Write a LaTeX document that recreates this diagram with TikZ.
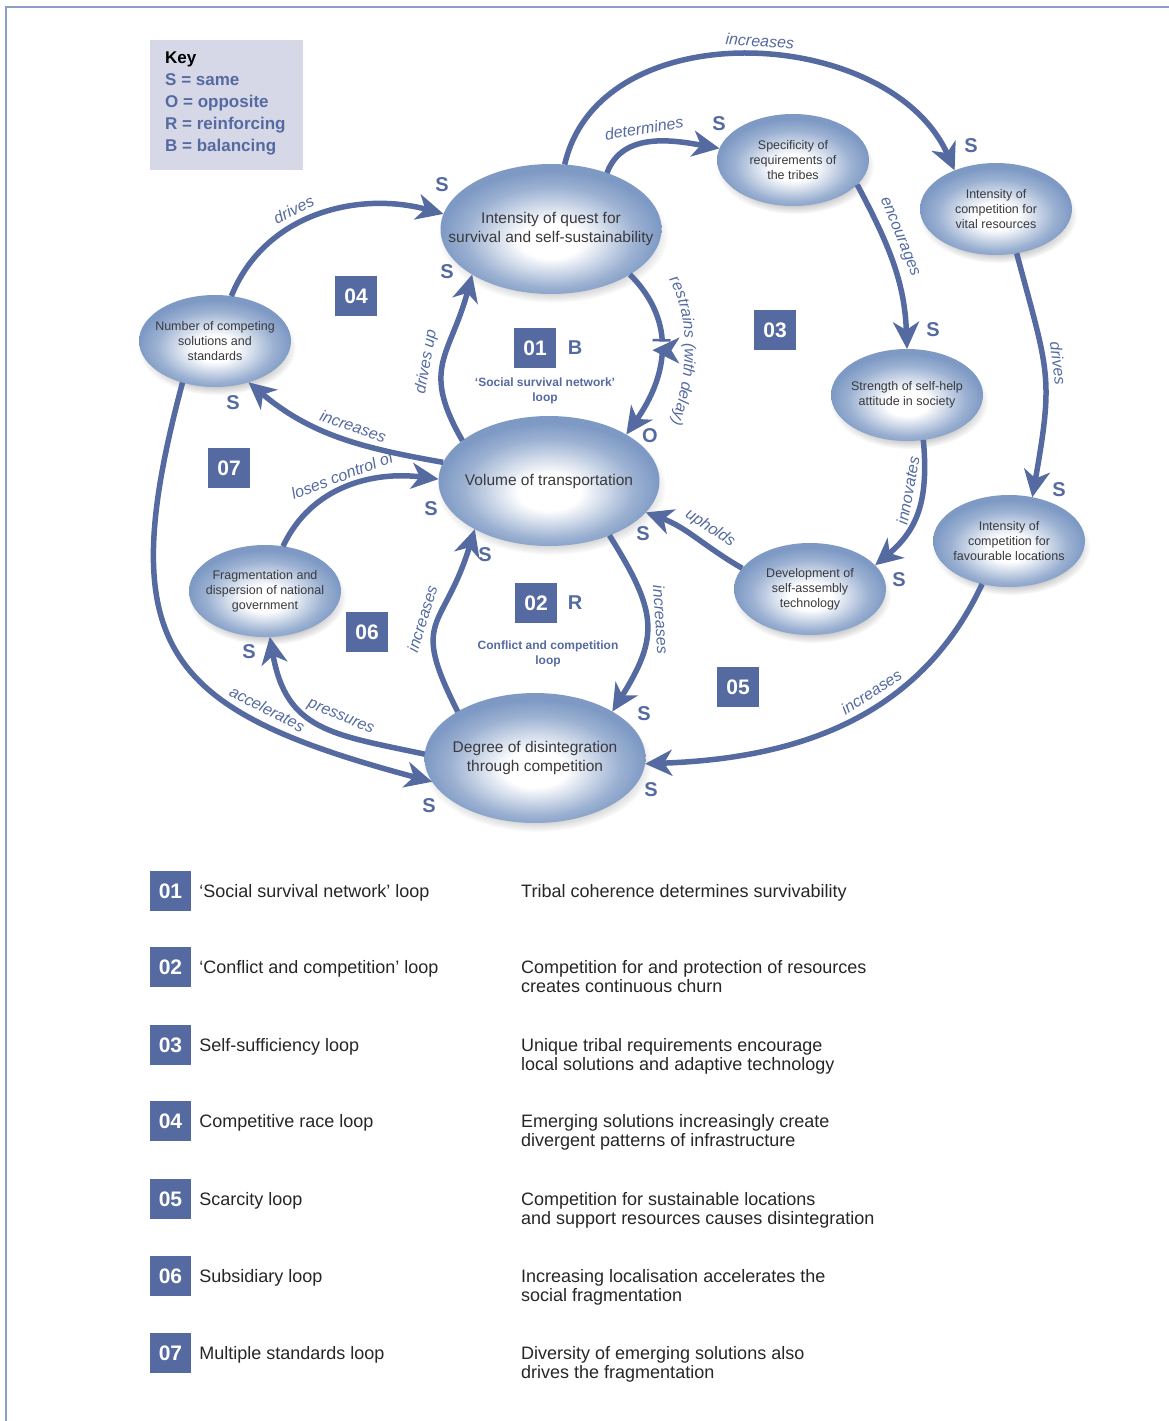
\documentclass[tikz,border=0pt]{standalone}
\usepackage{fontspec}
\setmainfont{Liberation Sans}
\usetikzlibrary{arrows.meta, positioning, shapes.geometric, shadows, fadings, decorations.markings, decorations.text}

\definecolor{loopblue}{RGB}{85,106,160}
\definecolor{ballblue}{RGB}{125,153,196}
\definecolor{keyfill}{RGB}{214,216,232}
\definecolor{nodetext}{RGB}{58,58,62}
\definecolor{framecol}{RGB}{140,158,196}

\pgfdeclareradialshading{nodeball}{\pgfpoint{0bp}{-5bp}}{color(0bp)=(white); color(7bp)=(white); color(19bp)=(ballblue!75); color(25bp)=(ballblue); color(50bp)=(ballblue)}

\begin{document}
\begin{tikzpicture}[
    x=1pt, y=-1pt, % pixel grid, y downwards
    varshape/.style={ellipse, inner sep=0pt, outer sep=0pt, minimum width=152, minimum height=92,
      shading=nodeball,
      drop shadow={shadow xshift=2pt, shadow yshift=-6pt, shadow scale=1.04, opacity=.5,
        fill=black!45, path fading=circle with fuzzy edge 20 percent}},
    var/.style={varshape, label={[vartext]center:{#1}}},
    bigvar/.style={varshape, minimum width=221, minimum height=130,
      label={[vartext, font=\fontsize{15.5}{19}\selectfont]center:{#1}}},
    vartext/.style={align=center, text=nodetext, inner sep=0pt, font=\fontsize{12.5}{15}\selectfont},
    link/.style={draw=loopblue, line width=5.5pt, -{Stealth[length=27pt, width=26pt, inset=8pt]}},
    lbl/.style={text=loopblue, inner xsep=1pt, inner ysep=6pt, sloped, above,
      font=\fontsize{16}{16}\selectfont\itshape},
    sgn/.style={text=loopblue, inner sep=0pt, font=\fontsize{20}{20}\selectfont\bfseries},
    num/.style={fill=loopblue, text=white, inner sep=0pt, minimum width=42, minimum height=40,
      font=\fontsize{21}{21}\selectfont\bfseries},
    loopcap/.style={text=loopblue, align=center, font=\fontsize{12}{15}\selectfont\bfseries},
    keytitle/.style={text=black!85, inner sep=0pt, text height=13, text depth=0pt, font=\fontsize{18}{19}\selectfont},
    keydesc/.style={text=black!85, inner sep=0pt, align=left, anchor=north west, font=\fontsize{18}{19}\selectfont}
  ]
  \useasboundingbox (0,0) rectangle (1169,1421);
  \draw[framecol, line width=1.5pt] (6,1421) -- (6,7) -- (1169,7);

  % key
  \node[fill=keyfill, minimum width=153, minimum height=130] (key) at (226.5,105) {};
  \node[anchor=west, inner sep=0pt, align=left, text=loopblue, font=\fontsize{17}{22}\selectfont\bfseries]
    (keylines) at (165,103) {\textcolor{black}{Key}\\S = same\\O = opposite\\R = reinforcing\\B = balancing};

  % variables
  \node[bigvar={Intensity of quest for\\survival and self-sustainability}] (quest) at (551,229) {};
  \node[var={Specificity of\\requirements of\\the tribes}] (spec) at (793,160) {};
  \node[var={Intensity of\\competition for\\vital resources}] (vital) at (996,209) {};
  \node[var={Number of competing\\solutions and\\standards}] (compet) at (215,341) {};
  \node[var={Strength of self-help\\attitude in society}] (selfhelp) at (907,395) {};
  \node[bigvar={Volume of transportation}] (volume) at (549,481) {};
  \node[var={Fragmentation and\\dispersion of national\\government}] (frag) at (265,591) {};
  \node[var={Development of\\self-assembly\\technology}] (assembly) at (810,589) {};
  \node[var={Intensity of\\competition for\\favourable locations}] (favour) at (1009,541) {};
  \node[bigvar={Degree of disintegration\\through competition}] (disint) at (535,758) {};

  % links
  \draw[link] (quest.78) .. controls (600,10) and (890,25) .. (vital.137)
    node[lbl, pos=.52] (lqv) {increases};
  \draw[link] (quest.45) to[out=70, in=170] node[lbl, pos=.45] (lqs) {determines} (spec.171);
  \draw[link] (spec.-21) to[out=-62, in=92] node[lbl, pos=.36, allow upside down] (lsh) {encourages} (selfhelp.90);
  \draw[link] (vital.-65) to[out=-75, in=80, looseness=1.3] node[lbl, pos=.45, allow upside down] (lvf) {drives} (favour.62);
  \draw[link] (selfhelp.-70) to[out=-85, in=40, looseness=1.1] node[lbl, pos=.36] (lha) {innovates} (assembly.20);
  \draw[link] (assembly.163) to[out=150, in=-20] node[lbl, pos=.43] (lav) {upholds} (volume.-18);
  \draw[link] (favour.-122) to[out=-115, in=2] node[lbl, pos=.4] (lfd) {increases} (disint.-3);
  \draw[link, postaction={decorate, decoration={markings, mark=at position 0.45 with
      {\fill[white] (-4,-9) rectangle (4,9);
       \draw[loopblue, line width=2.5pt] (-5,-9) -- (-5,9) (5,-9) -- (5,9);}}}]
    (quest.-30) to[out=-45, in=55, looseness=1.1] (volume.31); % delay
  \draw[link] (volume.155) to[out=120, in=-105, looseness=1.3] node[lbl, pos=.47, allow upside down] (lvq) {drives up} (quest.-150);
  \draw[link] (volume.170) to[out=170, in=-40] node[lbl, pos=.45] (lvc) {increases} (compet.-51);
  \draw[link] (compet.70) to[out=68, in=165] node[lbl, pos=.42] (lcq) {drives} (quest.172);
  \draw[link] (frag.68) to[out=65, in=173] node[lbl, pos=.5, inner ysep=4pt] (lfv) {loses control of} (volume.179);
  \draw[link] (disint.149) to[out=117, in=-107, looseness=1.5] node[lbl, pos=.5, allow upside down] (ldv) {increases} (volume.-147);
  \draw[link] (volume.-42) to[out=-58, in=58, looseness=1.3] node[lbl, pos=.48, allow upside down] (lvd) {increases} (disint.31);
  \draw[link] (disint.178) to[out=168, in=-80, looseness=1.25] node[lbl, pos=.4] (ldf) {pressures} (frag.-84);
  \draw[link] (compet.-128) to[out=-105, in=165, looseness=1.5] node[lbl, pos=.73] (lcd) {accelerates} (disint.-167);
  \path[decorate, decoration={text along path, text align=center, text color=loopblue,
      text={|\fontsize{16}{16}\selectfont\itshape|restrains (with delay)}}]
    (655,262) .. controls (698,303) and (689,392) .. (662,444);

  % polarities
  \node[sgn] (s1) at (442,185) {S};
  \node[sgn] (s2) at (719,124) {S};
  \node[sgn] (s3) at (971,146) {S};
  \node[sgn] (s4) at (447,272) {S};
  \node[sgn] (s5) at (233,403) {S};
  \node[sgn] (s6) at (933,330) {S};
  \node[sgn] (o1) at (650,436) {O};
  \node[sgn] (s7) at (431,509) {S};
  \node[sgn] (s8) at (485,555) {S};
  \node[sgn] (s9) at (643,534) {S};
  \node[sgn] (s10) at (899,580) {S};
  \node[sgn] (s11) at (1059,490) {S};
  \node[sgn] (s12) at (249,652) {S};
  \node[sgn] (s13) at (644,714) {S};
  \node[sgn] (s14) at (651,790) {S};
  \node[sgn] (s15) at (429,806) {S};

  % loop numbers
  \node[num] (n04) at (356,296) {04};
  \node[num] (n01) at (535,348) {01};
  \node[sgn] (b01) at (575,348) {B};
  \node[loopcap] (c01) at (545,391) {‘Social survival network’\\loop};
  \node[num] (n03) at (775,330) {03};
  \node[num] (n07) at (229,468) {07};
  \node[num] (n02) at (536,603) {02};
  \node[sgn] (r02) at (575,603) {R};
  \node[loopcap] (c02) at (548,654) {Conflict and competition\\loop};
  \node[num] (n06) at (367,632) {06};
  \node[num] (n05) at (738,687) {05};

  % legend
  \foreach \k/\ry/\ttl/\dsc in {
      01/891/{‘Social survival network’ loop}/{Tribal coherence determines survivability},
      02/967/{‘Conflict and competition’ loop}/{Competition for and protection of resources\\creates continuous churn},
      03/1045/{Self-sufficiency loop}/{Unique tribal requirements encourage\\local solutions and adaptive technology},
      04/1121/{Competitive race loop}/{Emerging solutions increasingly create\\divergent patterns of infrastructure},
      05/1199/{Scarcity loop}/{Competition for sustainable locations\\and support resources causes disintegration},
      06/1276/{Subsidiary loop}/{Increasing localisation accelerates the\\social fragmentation},
      07/1353/{Multiple standards loop}/{Diversity of emerging solutions also\\drives the fragmentation}}
  {
    \node[num, minimum width=41] (leg\k) at (170.5,\ry) {\k};
    \node[keytitle, right=8pt of leg\k] (title\k) {\ttl};
    \node[keydesc] (desc\k) at (521,\ry-7) {\dsc};
  }
\end{tikzpicture}
\end{document}
